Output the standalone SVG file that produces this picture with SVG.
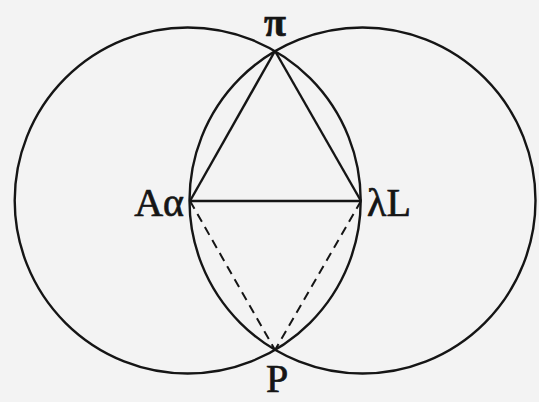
<svg xmlns="http://www.w3.org/2000/svg" width="539" height="402" viewBox="0 0 539 402">
<style>
.ln{fill:none;stroke:#151515;stroke-width:2.4}
.dash{fill:none;stroke:#151515;stroke-width:2;stroke-dasharray:9 6}
.lbl{font-family:"Liberation Serif","DejaVu Serif",serif;font-size:40px;fill:#151515;stroke:#151515;stroke-width:0.7}
</style>
<rect width="539" height="402" fill="#f3f3f3"/>
<g id="circles">
<circle id="circle-left" class="ln" cx="187.7" cy="200.5" r="173"/>
<circle id="circle-right" class="ln" cx="362.5" cy="200.5" r="173"/>
</g>
<g id="connectors">
<line class="ln" x1="190" y1="201" x2="361" y2="201"/>
<line class="ln" x1="190" y1="201" x2="275" y2="51"/>
<line class="ln" x1="361" y1="201" x2="275" y2="51"/>
<line class="dash" x1="190" y1="201" x2="275" y2="350"/>
<line class="dash" x1="361" y1="201" x2="275" y2="350"/>
</g>
<g id="node-pi"><text class="lbl" x="275" y="36" text-anchor="middle" font-weight="bold" font-size="40">π</text></g>
<g id="node-A"><text class="lbl" x="184" y="216" text-anchor="end">Aα</text></g>
<g id="node-L"><text class="lbl" x="367" y="216">λL</text></g>
<g id="node-P"><text class="lbl" x="277" y="392" text-anchor="middle" font-size="36">P</text></g>
</svg>
